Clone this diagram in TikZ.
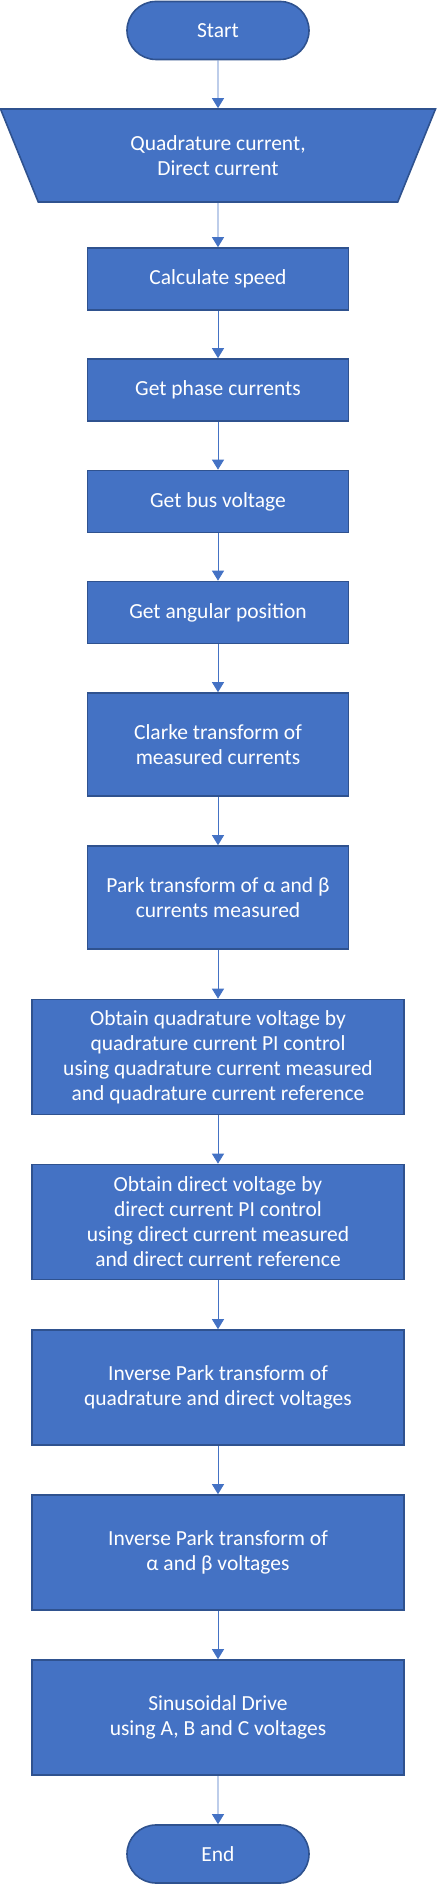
\documentclass[tikz,border=0pt]{standalone}
\usepackage{fontspec}
\setmainfont{Carlito}
\usetikzlibrary{arrows.meta,shapes.geometric,shapes.misc}
\definecolor{boxblue}{HTML}{4472C4}
\definecolor{edgeblue}{HTML}{2F528F}
\begin{document}
\begin{tikzpicture}[x=1pt,y=1pt,
                        box/.style={draw=edgeblue,fill=boxblue,line width=1.6pt,text=white,
                                    align=center,font=\fontsize{21.5}{25}\selectfont,inner sep=0pt},
                        terminal/.style={box,rounded rectangle,minimum width=182,minimum height=58},
                        inbox/.style={box,trapezium,shape border rotate=180,trapezium angle=46.7,
                                      trapezium stretches body=true,minimum width=435,minimum height=93},
                        small/.style={box,minimum width=261,minimum height=62},
                        mid/.style={box,minimum width=261,minimum height=103},
                        wide/.style={box,minimum width=372,minimum height=115},
                        arrow/.style={-{Triangle[width=12pt,length=10pt]},draw=boxblue,line width=0.9pt},
                        ]
                        \useasboundingbox (0,0) rectangle (437,1885);
                        %Start und Eingabe
                        \node [terminal] (start) at (218,1854.5) {Start};
                        \node [inbox] (input) at (218,1729.5) {Quadrature current,\\Direct current};
                        %Schritte
                        \node [small] (speed) at (218,1606) {Calculate speed};
                        \node [small] (phase) at (218,1495) {Get phase currents};
                        \node [small] (bus) at (218,1383.5) {Get bus voltage};
                        \node [small] (angle) at (218,1272.5) {Get angular position};
                        \node [mid] (clarke) at (218,1140.5) {Clarke transform of\\measured currents};
                        \node [mid] (park) at (218,987.5) {Park transform of α and β\\currents measured};
                        \node [wide] (quad) at (218,828) {Obtain quadrature voltage by\\quadrature current PI control\\using quadrature current measured\\and quadrature current reference};
                        \node [wide] (direct) at (218,663) {Obtain direct voltage by\\direct current PI control\\using direct current measured\\and direct current reference};
                        \node [wide] (invpark) at (218,497.5) {Inverse Park transform of\\quadrature and direct voltages};
                        \node [wide] (invab) at (218,332.5) {Inverse Park transform of\\α and β voltages};
                        \node [wide] (drive) at (218,167.5) {Sinusoidal Drive\\using A, B and C voltages};
                        %Ende
                        \node [terminal] (end) at (218,31) {End};
                        %Pfeile
                        \foreach \a/\b in {start/input, input/speed, speed/phase, phase/bus, bus/angle,
                                           angle/clarke, clarke/park, park/quad, quad/direct,
                                           direct/invpark, invpark/invab, invab/drive, drive/end}
                        \draw [arrow] (\a) -- (\b);
                \end{tikzpicture}
\end{document}
